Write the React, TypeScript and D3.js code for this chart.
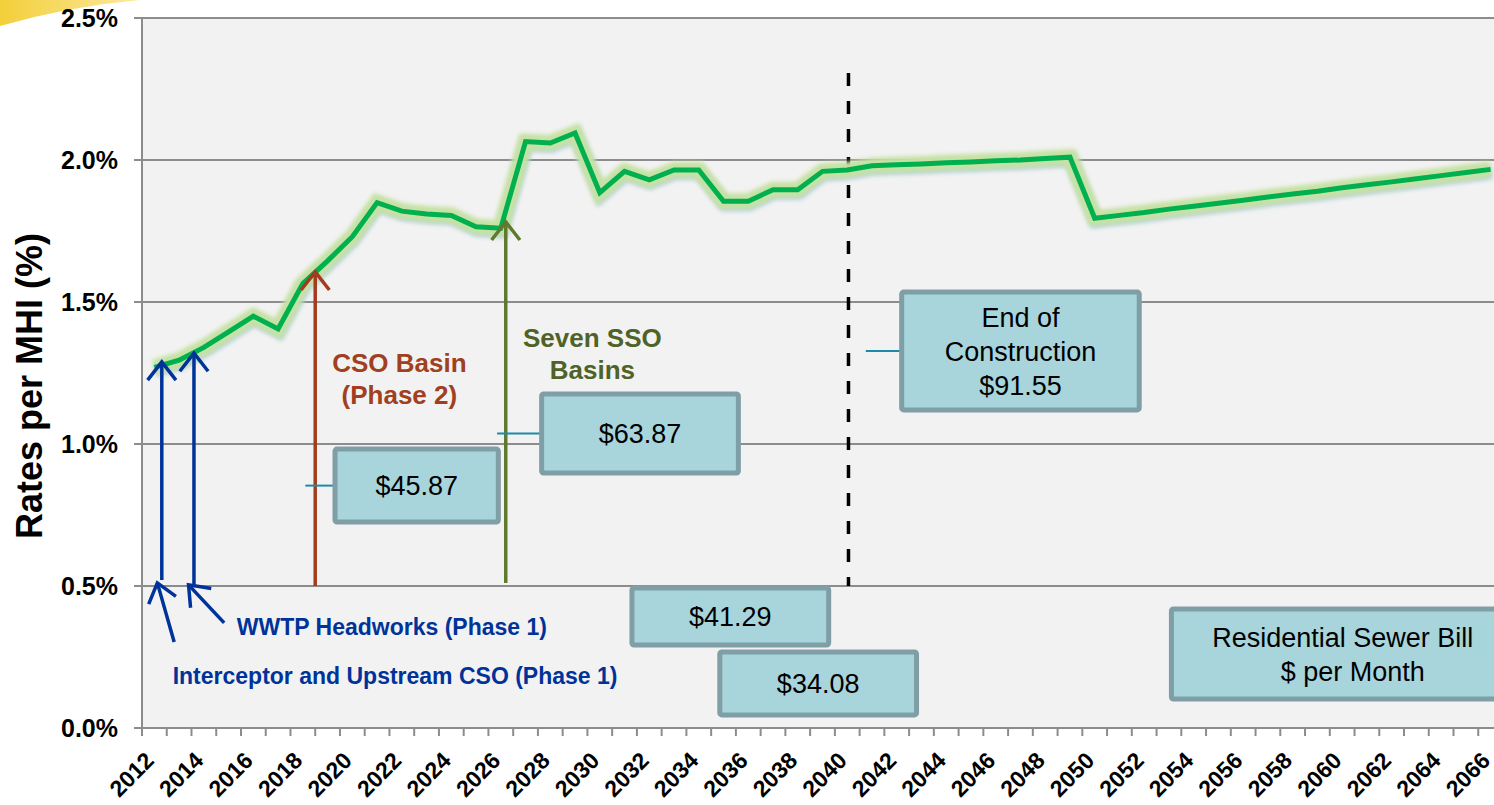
import React from 'react';
import * as d3 from 'd3';

// categories: one per year
const years = d3.range(2012, 2067);
const yearLabels = years.filter(y => y % 2 === 0);

// rates per MHI (%), one value per year 2012..2066
const rates = [
  1.27, 1.295, 1.34, 1.395, 1.45, 1.405, 1.565, 1.645, 1.73, 1.85,
  1.82, 1.81, 1.805, 1.765, 1.76, 2.065, 2.06, 2.095, 1.885, 1.96,
  1.93, 1.965, 1.965, 1.855, 1.855, 1.895, 1.895, 1.96, 1.965, 1.98,
  1.983, 1.986, 1.99, 1.993, 1.997, 2.0, 2.005, 2.01, 1.795, 1.805,
  1.815, 1.827, 1.837, 1.848, 1.858, 1.87, 1.88, 1.89, 1.902, 1.913,
  1.923, 1.934, 1.945, 1.956, 1.967
];

const yTicks = [0, 0.5, 1.0, 1.5, 2.0, 2.5];

// bill boxes: year span, value span, text lines, optional leader line start
const bills = [
  { x0: 2019.3, x1: 2025.9, v0: 0.982, v1: 0.725, lines: ['$45.87'], shift: [0], lead: 2018.1 },
  { x0: 2027.65, x1: 2035.6, v0: 1.176, v1: 0.898, lines: ['$63.87'], shift: [0], lead: 2025.85 },
  { x0: 2042.2, x1: 2051.8, v0: 1.535, v1: 1.12, lines: ['End of', 'Construction', '$91.55'], shift: [0, 0, 0], lead: 2040.75 },
  { x0: 2031.3, x1: 2039.25, v0: 0.493, v1: 0.292, lines: ['$41.29'], shift: [0], lead: null },
  { x0: 2034.85, x1: 2042.8, v0: 0.268, v1: 0.046, lines: ['$34.08'], shift: [0], lead: null },
  { x0: 2053.1, x1: 2067.6, v0: 0.419, v1: 0.102, lines: ['Residential Sewer Bill', '$ per Month'], shift: [-8, 2], lead: null }
];

// project milestone arrows (year, from value, to value)
const milestones = [
  { year: 2012.3, from: 0.521, to: 1.289, color: '#003399' },
  { year: 2013.6, from: 0.496, to: 1.32, color: '#003399' },
  { year: 2018.5, from: 0.5, to: 1.606, color: '#a33b1e' },
  { year: 2026.2, from: 0.511, to: 1.782, color: '#5f7a2e' }
];

const pointers = [
  { x0: 2012.8, v0: 0.303, x1: 2012.12, v1: 0.511 },
  { x0: 2014.82, v0: 0.37, x1: 2013.38, v1: 0.504 }
];

const labels = [
  { year: 2021.9, value: 1.285, text: 'CSO Basin', color: '#a0401e', anchor: 'middle', size: 26 },
  { year: 2021.9, value: 1.173, text: '(Phase 2)', color: '#a0401e', anchor: 'middle', size: 26 },
  { year: 2029.7, value: 1.373, text: 'Seven SSO', color: '#4f6228', anchor: 'middle', size: 26 },
  { year: 2029.7, value: 1.261, text: 'Basins', color: '#4f6228', anchor: 'middle', size: 26 },
  { year: 2015.33, value: 0.355, text: 'WWTP Headworks (Phase 1)', color: '#003399', anchor: 'start', size: 23 },
  { year: 2012.74, value: 0.183, text: 'Interceptor and Upstream CSO (Phase 1)', color: '#003399', anchor: 'start', size: 23 }
];

const endOfConstruction = { year: 2040.05, from: 2.306, to: 0.5 };

const W = 1494;
const H = 805;
const font = 'Arial, "Liberation Sans", sans-serif';

function head(x1: number, y1: number, x2: number, y2: number) {
  const a = Math.atan2(y2 - y1, x2 - x1);
  const len = 23;
  const spread = (38 * Math.PI) / 180;
  const p1 = [x2 - len * Math.cos(a - spread), y2 - len * Math.sin(a - spread)];
  const p2 = [x2 - len * Math.cos(a + spread), y2 - len * Math.sin(a + spread)];
  return `M${p1[0]},${p1[1]} L${x2},${y2} L${p2[0]},${p2[1]}`;
}

export default function App() {
  const x = d3.scaleLinear().domain([2011.5, 2066.5]).range([142, 1503]);
  const y = d3.scaleLinear().domain([0, 2.5]).range([728, 18]);

  const line = d3.line<number>()
    .x((_, i) => x(years[i]))
    .y(d => y(d));
  const path = line(rates) || '';

  return (
    <svg width={W} height={H} style={{ position: 'absolute', left: 0, top: 0, background: '#fff' }}
      fontFamily={font}>
      <defs>
        <filter id="glow" x="-10%" y="-20%" width="120%" height="140%">
          <feGaussianBlur stdDeviation="2.2" />
        </filter>
        <linearGradient id="swoosh" x1="0" x2="1" y1="0" y2="0">
          <stop offset="0" stopColor="#f3cf3a" />
          <stop offset="1" stopColor="#fbe9a0" />
        </linearGradient>
      </defs>
      <path d="M0,0 L140,0 Q70,6 0,26 Z" fill="url(#swoosh)" />

      <rect x={x(2011.5)} y={y(2.5)} width={W - x(2011.5)} height={y(0) - y(2.5)} fill="#f2f2f2" />

      {yTicks.map(t => (
        <g key={t}>
          <line x1={134} x2={W} y1={y(t)} y2={y(t)} stroke="#8c8c8c" strokeWidth={2} />
          <text x={118} y={y(t)} dy="0.36em" textAnchor="end" fontWeight="bold" fontSize={25}>
            {t.toFixed(1)}%
          </text>
        </g>
      ))}
      <line x1={x(2011.5)} x2={x(2011.5)} y1={y(2.5)} y2={y(0)} stroke="#8c8c8c" strokeWidth={2} />

      {d3.range(2012, 2068).map(yr => (
        <line key={yr} x1={x(yr - 0.5)} x2={x(yr - 0.5)} y1={y(0)} y2={y(0) + 8} stroke="#8c8c8c" strokeWidth={2} />
      ))}
      {yearLabels.map(yr => (
        <text key={yr} transform={`translate(${x(yr) + 1},${y(0) + 34}) rotate(-45)`}
          textAnchor="end" fontWeight="bold" fontSize={23}>{yr}</text>
      ))}

      <text transform={`translate(42,386) rotate(-90)`} textAnchor="middle" fontWeight="bold" fontSize={36}>
        Rates per MHI (%)
      </text>

      {/* end of construction marker */}
      <line x1={x(endOfConstruction.year)} x2={x(endOfConstruction.year)}
        y1={y(endOfConstruction.from)} y2={y(endOfConstruction.to)}
        stroke="#000" strokeWidth={3.5} strokeDasharray="13 15" />

      {/* rate line with glow */}
      <path d={path} fill="none" stroke="#9fc3dd" strokeWidth={14} transform="translate(1,3)" filter="url(#glow)" opacity={0.7} />
      <path d={path} fill="none" stroke="#c6e2a3" strokeWidth={16} filter="url(#glow)" />
      <path d={path} fill="none" stroke="#00b050" strokeWidth={5} strokeLinejoin="miter" />

      {milestones.map((m, i) => (
        <g key={i} stroke={m.color} strokeWidth={3.5} fill="none">
          <line x1={x(m.year)} x2={x(m.year)} y1={y(m.from)} y2={y(m.to)} />
          <path d={head(x(m.year), y(m.from), x(m.year), y(m.to))} />
        </g>
      ))}
      {pointers.map((p, i) => (
        <g key={i} stroke="#003399" strokeWidth={3.5} fill="none">
          <line x1={x(p.x0)} y1={y(p.v0)} x2={x(p.x1)} y2={y(p.v1)} />
          <path d={head(x(p.x0), y(p.v0), x(p.x1), y(p.v1))} />
        </g>
      ))}

      {labels.map((l, i) => (
        <text key={i} x={x(l.year)} y={y(l.value)} dy="0.36em" textAnchor={l.anchor as any}
          fill={l.color} fontWeight="bold" fontSize={l.size}>{l.text}</text>
      ))}

      {bills.map((b, i) => {
        const bx = x(b.x0), bw = x(b.x1) - x(b.x0);
        const by = y(b.v0), bh = y(b.v1) - y(b.v0);
        const cx = bx + bw / 2, cy = by + bh / 2;
        const lh = 34;
        return (
          <g key={i}>
            {b.lead !== null && (
              <line x1={x(b.lead)} x2={bx} y1={cy} y2={cy} stroke="#1d8aa8" strokeWidth={2} />
            )}
            <rect x={bx} y={by} width={bw} height={bh} rx={2} fill="#a8d4dc" stroke="#7f9ea5" strokeWidth={5} />
            {b.lines.map((t, j) => (
              <text key={j} x={cx + b.shift[j]} y={cy + (j - (b.lines.length - 1) / 2) * lh} dy="0.36em"
                textAnchor="middle" fontSize={27} fill="#000">{t}</text>
            ))}
          </g>
        );
      })}
    </svg>
  );
}
